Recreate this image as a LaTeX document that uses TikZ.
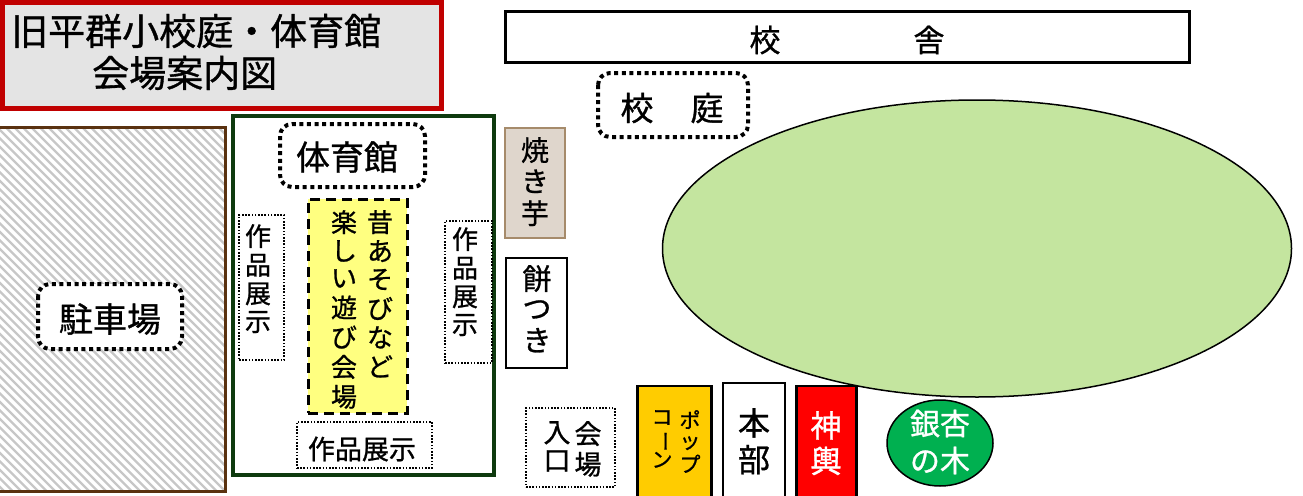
\documentclass[tikz,border=0pt]{standalone}
\usepackage{fontspec}
\setmainfont{Noto Sans CJK JP}[RawFeature={embolden=0.9}]
\usepackage{graphicx}
\usetikzlibrary{shapes.geometric}
\definecolor{titlered}{HTML}{C00000}
\definecolor{titlefill}{HTML}{E4E4E4}
\definecolor{parkbrown}{HTML}{5A3210}
\definecolor{gymgreen}{HTML}{0E3A0E}
\definecolor{yfill}{HTML}{FFFF80}
\definecolor{imofill}{HTML}{DFD6CC}
\definecolor{imoborder}{HTML}{A68B6B}
\definecolor{fieldgreen}{HTML}{C4E59F}
\definecolor{popfill}{HTML}{FFCC00}
\definecolor{treegreen}{HTML}{00B050}
\newcommand\vst[1]{\begin{tabular}[t]{@{}c@{}}#1\end{tabular}}
\newcommand\vbar{\rotatebox[origin=c]{-90}{ー}}
\newcommand\fs[2]{\fontsize{#1}{#2}\selectfont}
\tikzset{
  dotround/.style={draw=black, fill=white, line width=4pt, dash pattern=on 4pt off 3.6pt, rounded corners=12pt, inner sep=0pt},
  dotthin/.style={draw=black, fill=white, line width=1.6pt, dash pattern=on 1.6pt off 1.6pt, inner sep=0pt},
  plainbox/.style={draw=black, line width=2.5pt, inner sep=0pt},
  txt/.style={inner sep=0pt, align=center},
  hatchline/.style={draw=black!22, line width=2.4pt}
}
\begin{document}
\begin{tikzpicture}[x=1pt,y=-1pt]
\useasboundingbox (0,0) rectangle (1303,495);

% title
\draw[titlered, line width=5pt, fill=titlefill] (2.5,2.5) rectangle (441.5,108.5);
\node[txt, anchor=west, font=\fs{37}{40}] (title1) at (11,31) {旧平群小校庭・体育館};
\node[txt, anchor=west, font=\fs{37}{40}] (title2) at (92,73) {会場案内図};

% parking
\begin{scope}
  \clip (0,127) rectangle (226,492);
  \foreach \i in {-520,-511.5,...,240} \draw[hatchline] (\i,120) -- ++(380,380);
\end{scope}
\draw[parkbrown, line width=3pt] (-3,127) -- (225,127) -- (225,491.5) -- (-3,491.5);
\draw[dotround] (38,284) rectangle (182,349);
\node[txt, font=\fs{34}{36}] (park) at (110,319) {駐車場};

% gym
\draw[gymgreen, line width=3.5pt] (233,116) rectangle (494,475);
\draw[dotround] (280,124) rectangle (425,187);
\node[txt, font=\fs{34}{36}] (gym) at (347,157) {体育館};
\node[draw=black, fill=yfill, line width=3pt, dash pattern=on 10pt off 6pt, minimum width=99pt, minimum height=214pt, inner sep=0pt] (play) at (357.5,306) {};
\node[txt, anchor=north, font=\fs{26}{27}] (playR) at (380,210) {\vst{昔\\あ\\そ\\び\\な\\ど}};
\node[txt, anchor=north, font=\fs{26}{27}] (playL) at (344,210) {\vst{楽\\し\\い\\遊\\び\\会\\場}};
\node[dotthin, minimum width=45pt, minimum height=145pt] (exL) at (261.5,287.5) {};
\node[txt, anchor=north, font=\fs{26}{26.5}] (exLt) at (258,224) {\vst{作\\品\\展\\示}};
\node[dotthin, minimum width=47pt, minimum height=142pt] (exR) at (468.5,292) {};
\node[txt, anchor=north, font=\fs{26}{26.5}] (exRt) at (465,227) {\vst{作\\品\\展\\示}};
\node[dotthin, minimum width=135pt, minimum height=46pt] (exB) at (364.5,445) {};
\node[txt, font=\fs{27}{28}] (exBt) at (362,449) {作品展示};

% stalls
\node[draw=imoborder, fill=imofill, line width=2.5pt, minimum width=60pt, minimum height=110pt, inner sep=0pt] (imo) at (535,183) {};
\node[txt, anchor=north, font=\fs{28}{29}] (imot) at (535,137) {\vst{焼\\き\\芋}};
\node[plainbox, line width=2pt, minimum width=61pt, minimum height=110pt] (mochi) at (536,312.5) {};
\node[txt, anchor=north, font=\fs{29}{29.5}] (mochit) at (537,265) {\vst{餅\\つ\\き}};

% school
\node[plainbox, minimum width=684pt, minimum height=51pt] (school) at (847.5,37) {};
\node[txt, font=\fs{31}{32}] (schoolt) at (847,40) {校\hspace{133pt}舎};
\draw[dotround] (598,73) rectangle (748,137);
\node[txt, font=\fs{33}{34}] (yard) at (672,108) {校\hspace{37pt}庭};
\node[draw=black, fill=fieldgreen, line width=1.5pt, ellipse, minimum width=629pt, minimum height=297pt, inner sep=0pt] (field) at (977,248.5) {};

% bottom row
\node[dotthin, minimum width=89pt, minimum height=79pt] (gate) at (570.5,447.5) {};
\node[txt, anchor=north, font=\fs{27}{27}] (gateR) at (588,421) {\vst{会\\場}};
\node[txt, anchor=north, font=\fs{27}{27}] (gateL) at (557,421) {\vst{入\\口}};
\node[plainbox, fill=popfill, line width=2.8pt, minimum width=74pt, minimum height=113pt] (pop) at (674.5,442.5) {};
\node[txt, anchor=north, font=\fs{21}{20.5}] (popR) at (690,410) {\vst{ポ\\ッ\\プ}};
\node[txt, anchor=north, font=\fs{21}{20.5}] (popL) at (662,410) {\vst{コ\\\vbar\\ン}};
\node[plainbox, fill=white, line width=2.8pt, minimum width=62pt, minimum height=116pt] (hq) at (754,441) {};
\node[txt, anchor=north, font=\fs{32}{33}] (hqt) at (754,408) {\vst{本\\部}};
\node[plainbox, fill=red, line width=2.8pt, minimum width=60pt, minimum height=113pt] (mikoshi) at (826.5,442.5) {};
\node[txt, anchor=north, text=white, font=\fs{31}{31.5}] (mikoshit) at (826,411) {\vst{神\\輿}};
\node[draw=black, fill=treegreen, line width=1.5pt, ellipse, minimum width=106pt, minimum height=86pt, inner sep=0pt] (tree) at (940,443) {};
\node[txt, text=white, font=\fs{30}{37}] (treet) at (940,442) {銀杏\\の木};
\end{tikzpicture}
\end{document}
